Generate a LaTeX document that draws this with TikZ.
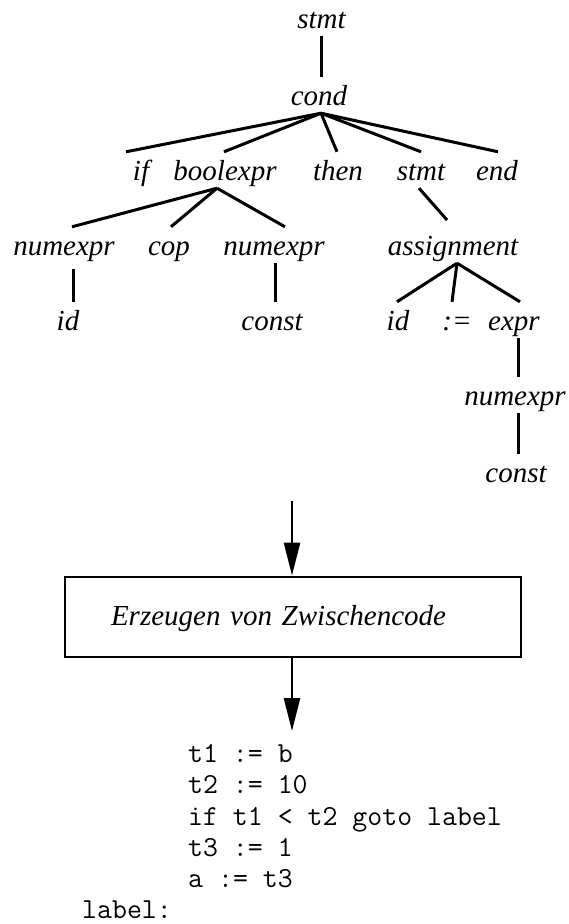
\documentclass[tikz,border=0pt]{standalone}
\usepackage{fontspec}
\setmainfont{Liberation Serif}
\usetikzlibrary{arrows.meta}
\tikzset{
  tn/.style={font=\itshape\fontsize{29}{34}\selectfont, text height=20pt, text depth=0pt,
             inner ysep=8pt, inner xsep=0pt, anchor=base},
  edge/.style={line width=3pt},
  arr/.style={line width=2.6pt, -{Triangle[length=33pt,width=16pt]}},
  codeline/.style={font=\ttfamily\fontsize{29}{34}\selectfont, anchor=base west, inner sep=0pt},
  procbox/.style={draw, line width=2.9pt, minimum width=456pt, minimum height=80pt,
             inner xsep=46pt, text width=364pt, align=left,
             font=\itshape\fontsize{29}{34}\selectfont, text height=20pt, text depth=3pt}
}
\begin{document}
\begin{tikzpicture}[x=1pt,y=1pt]
\useasboundingbox (0,0) rectangle (569,-924);
% tree nodes
\node[tn] (s0) at (321.5,-28) {stmt};
\node[tn] (cond) at (319,-105) {cond};
\node[tn] (if) at (141,-180) {if};
\node[tn] (bool) at (225,-180) {boolexpr};
\node[tn] (then) at (338,-180) {then};
\node[tn] (s1) at (421,-180) {stmt};
\node[tn] (end) at (497,-180) {end};
\node[tn] (nx1) at (64,-255) {numexpr};
\node[tn] (cop) at (169,-255) {cop};
\node[tn] (nx2) at (274,-255) {numexpr};
\node[tn] (asg) at (453,-255) {assignment};
\node[tn] (id1) at (68,-330) {id};
\node[tn] (c1) at (272,-330) {const};
\node[tn] (id2) at (398,-330) {id};
\node[tn] (op) at (457,-330) {:=};
\node[tn] (expr) at (514,-330) {expr};
\node[tn] (nx3) at (515,-405) {numexpr};
\node[tn] (c3) at (516,-482) {const};
% tree edges
\draw[edge] ([xshift=-0.5pt]s0.south) -- ([xshift=-0.5pt]s0.south |- cond.north);
\draw[edge] ([xshift=2pt]cond.south) -- ([xshift=-15pt]if.north);
\draw[edge] ([xshift=2pt]cond.south) -- ([xshift=-1pt]bool.north);
\draw[edge] ([xshift=2pt]cond.south) -- ([xshift=-1pt]then.north);
\draw[edge] ([xshift=2pt]cond.south) -- (s1.north);
\draw[edge] ([xshift=2pt]cond.south) -- ([xshift=1pt]end.north);
\draw[edge] ([xshift=-8pt]bool.south) -- ([xshift=8pt]nx1.north);
\draw[edge] ([xshift=-8pt]bool.south) -- ([xshift=2pt]cop.north);
\draw[edge] ([xshift=-8pt]bool.south) -- ([xshift=11pt]nx2.north);
\draw[edge, shorten >=9pt] ([xshift=-2pt]s1.south) -- (asg.north);
\draw[edge] ([xshift=4pt]asg.south) -- ([xshift=-1pt]id2.north);
\draw[edge] ([xshift=4pt]asg.south) -- ([xshift=-5pt]op.north);
\draw[edge] ([xshift=4pt]asg.south) -- ([xshift=6pt]expr.north);
\draw[edge, shorten <=6pt] ([xshift=9pt]nx1.south) -- ([xshift=9pt]nx1.south |- id1.north);
\draw[edge] ([xshift=1pt]nx2.south) -- ([xshift=1pt]nx2.south |- c1.north);
\draw[edge] ([xshift=4pt]expr.south) -- ([xshift=4pt]expr.south |- nx3.north);
\draw[edge] ([xshift=3pt]nx3.south) -- ([xshift=3pt]nx3.south |- c3.north);
% process box and arrows
\node[procbox] (box) at (293,-617) {Erzeugen von Zwischencode};
\coordinate (a1) at (292,-501);
\coordinate (a2) at (292,-731);
\draw[arr] (a1) -- (a1 |- box.north);
\draw[arr] (a1 |- box.south) -- (a2);
% code
\node[codeline] (l1) at (188,-762) {t1 := b};
\node[codeline] (l2) at (188,-793) {t2 := 10};
\node[codeline] (l3) at (188,-825) {if t1 < t2 goto label};
\node[codeline] (l4) at (188,-856) {t3 := 1};
\node[codeline] (l5) at (188,-887) {a := t3};
\node[codeline] (l6) at (82,-918) {label:};
\end{tikzpicture}
\end{document}
